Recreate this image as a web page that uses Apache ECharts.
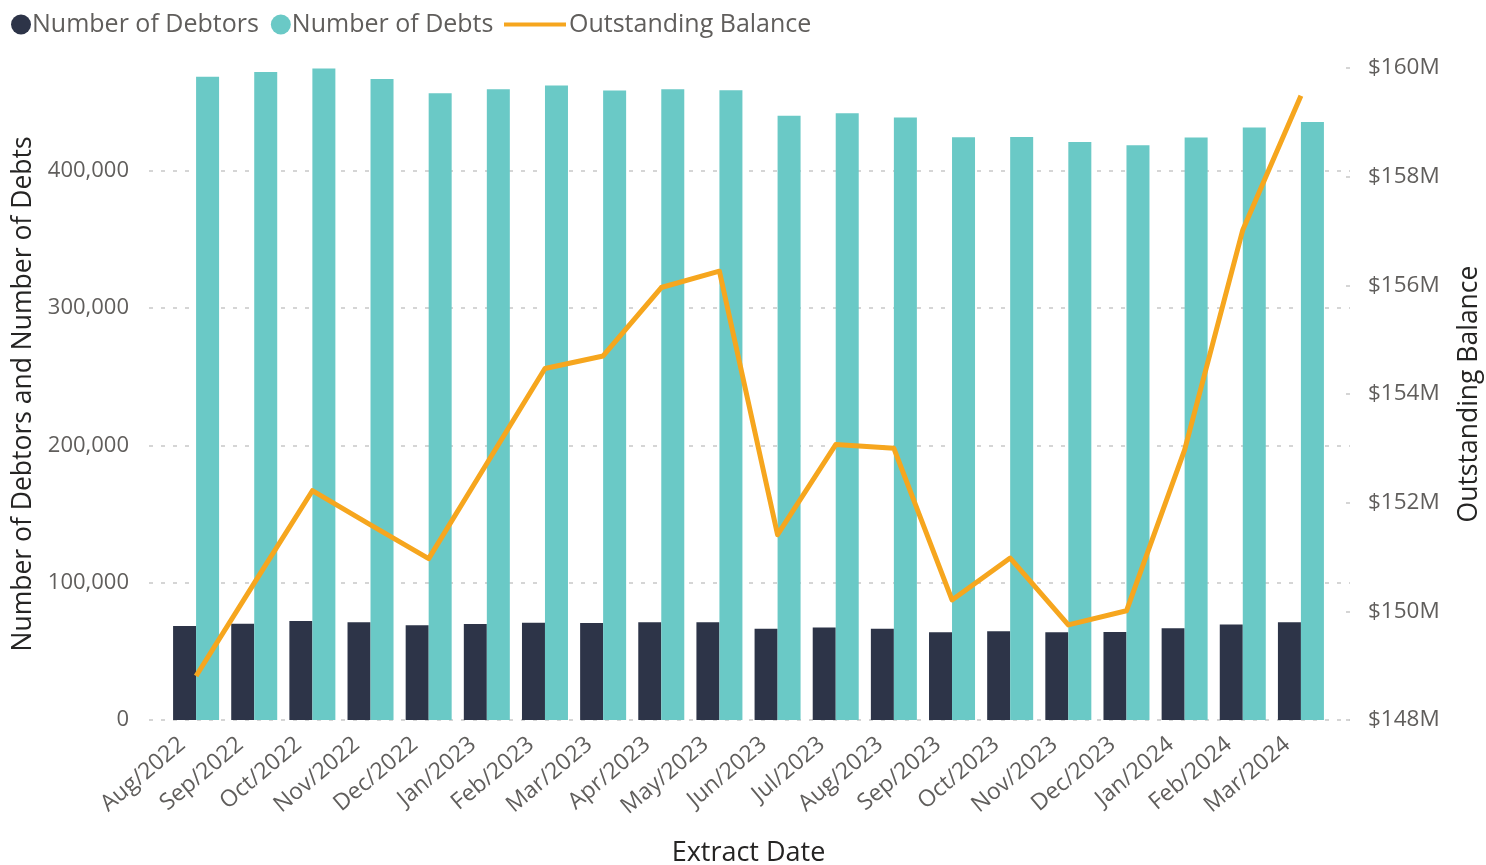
<!DOCTYPE html>
<html>
<head>
<meta charset="utf-8">
<title>Debtors, Debts and Outstanding Balance</title>
<script src="https://cdn.jsdelivr.net/npm/echarts@6/dist/echarts.min.js"></script>
<style>
  html, body { margin: 0; padding: 0; background: #ffffff; overflow: hidden; }
  #chart { width: 1486px; height: 865px; }
</style>
</head>
<body>
<div id="chart"></div>
<script>
// Monthly extract dates
const months = [
  'Aug/2022', 'Sep/2022', 'Oct/2022', 'Nov/2022', 'Dec/2022', 'Jan/2023',
  'Feb/2023', 'Mar/2023', 'Apr/2023', 'May/2023', 'Jun/2023', 'Jul/2023',
  'Aug/2023', 'Sep/2023', 'Oct/2023', 'Nov/2023', 'Dec/2023', 'Jan/2024',
  'Feb/2024', 'Mar/2024'
];

// Number of debtors per extract
const debtors = [
  68500, 70200, 72100, 71200, 69000, 69900,
  70900, 70700, 71200, 71200, 66500, 67300,
  66500, 63900, 64600, 63900, 64100, 66800,
  69500, 71200
];

// Number of debts per extract
const debts = [
  468700, 472100, 474600, 467000, 456600, 459500,
  462200, 458600, 459500, 458800, 440300, 442000,
  438900, 424500, 424800, 421100, 418700, 424300,
  431600, 435700
];

// Outstanding balance, in millions of dollars
const balance = [
  148.81, 150.52, 152.22, 151.59, 150.97, 152.72,
  154.47, 154.70, 155.96, 156.26, 151.41, 153.07,
  153.00, 150.21, 150.98, 149.75, 150.01, 152.97,
  157.02, 159.49
];

// Axis ranges
const countAxis = { min: 0, max: 475000, interval: 100000 };
const balanceAxis = { min: 148, max: 160, interval: 2 };

const FONT = '"Open Sans", "Noto Sans", sans-serif';
const LABEL_COLOR = '#605E5C';
const TITLE_COLOR = '#252423';
const COLOR_DEBTORS = '#2D3448';
const COLOR_DEBTS = '#6AC9C6';
const COLOR_BALANCE = '#F6A61E';

const chart = echarts.init(document.getElementById('chart'), null, { renderer: 'canvas' });

chart.setOption({
  backgroundColor: '#ffffff',
  animation: false,
  textStyle: { fontFamily: FONT },
  legend: [
    {
      left: 6, top: 7,
      itemWidth: 20, itemHeight: 20, itemGap: 12,
      icon: 'circle',
      textStyle: { fontFamily: FONT, fontSize: 25, color: LABEL_COLOR, padding: [0, 0, 0, -4] },
      data: ['Number of Debtors', 'Number of Debts']
    },
    {
      left: 499, top: 7,
      itemWidth: 62, itemHeight: 4, itemGap: 6,
      icon: 'rect',
      textStyle: { fontFamily: FONT, fontSize: 25, color: LABEL_COLOR, padding: [0, 0, 0, -2] },
      data: ['Outstanding Balance']
    }
  ],
  grid: [
    // frame carrying the gridlines and the value axes
    { left: 149, right: 136, top: 68, bottom: 145, outerBoundsMode: 'none', containLabel: false },
    // plotting area for the bars and the line
    { left: 167, right: 156, top: 68, bottom: 145, outerBoundsMode: 'none', containLabel: false }
  ],
  xAxis: [
    { gridIndex: 0, type: 'value', min: 0, max: 1, show: false },
    {
      gridIndex: 1,
      type: 'category',
      data: months,
      axisLine: { show: false },
      axisTick: { show: false },
      axisLabel: {
        rotate: 40, margin: 10, interval: 0,
        padding: [0, 18, 0, 0],
        fontFamily: FONT, fontSize: 23, color: LABEL_COLOR
      },
      name: 'Extract Date',
      nameLocation: 'middle',
      nameGap: 120,
      nameTextStyle: { fontFamily: FONT, fontSize: 27, color: TITLE_COLOR }
    }
  ],
  yAxis: [
    {
      gridIndex: 0,
      type: 'value',
      position: 'left',
      min: countAxis.min, max: countAxis.max, interval: countAxis.interval,
      axisLine: { show: false },
      axisTick: { show: false },
      axisLabel: {
        margin: 20, fontFamily: FONT, fontSize: 22, color: LABEL_COLOR,
        showMaxLabel: false,
        formatter: v => v.toLocaleString('en-US')
      },
      splitLine: {
        show: true, showMaxLine: false,
        lineStyle: { color: '#C8C8C8', width: 1.5, type: [4, 8] }
      },
      name: 'Number of Debtors and Number of Debts',
      nameLocation: 'middle',
      nameRotate: 90,
      nameGap: 111,
      nameTextStyle: { fontFamily: FONT, fontSize: 26.5, color: TITLE_COLOR }
    },
    {
      gridIndex: 0,
      type: 'value',
      position: 'right',
      min: balanceAxis.min, max: balanceAxis.max, interval: balanceAxis.interval,
      axisLine: { show: false },
      axisTick: { show: true, inside: true, length: 4, lineStyle: { color: '#C8C8C8', width: 1.5 } },
      axisLabel: {
        margin: 18, fontFamily: FONT, fontSize: 22.5, color: LABEL_COLOR,
        formatter: v => '$' + v + 'M'
      },
      splitLine: { show: false },
      name: 'Outstanding Balance',
      nameLocation: 'middle',
      nameRotate: 90,
      nameGap: 106,
      nameTextStyle: { fontFamily: FONT, fontSize: 26.5, color: TITLE_COLOR }
    },
    {
      gridIndex: 1, type: 'value', show: false,
      min: countAxis.min, max: countAxis.max, interval: countAxis.interval,
      splitLine: { show: false }
    },
    {
      gridIndex: 1, type: 'value', show: false,
      min: balanceAxis.min, max: balanceAxis.max, interval: balanceAxis.interval,
      splitLine: { show: false }
    }
  ],
  series: [
    {
      name: 'Number of Debtors',
      type: 'bar',
      xAxisIndex: 1, yAxisIndex: 2,
      data: debtors,
      barWidth: 23,
      barGap: '0%',
      itemStyle: { color: COLOR_DEBTORS }
    },
    {
      name: 'Number of Debts',
      type: 'bar',
      xAxisIndex: 1, yAxisIndex: 2,
      data: debts,
      barWidth: 23,
      barGap: '0%',
      itemStyle: { color: COLOR_DEBTS }
    },
    {
      name: 'Outstanding Balance',
      type: 'line',
      xAxisIndex: 1, yAxisIndex: 3,
      data: balance,
      showSymbol: false,
      symbol: 'none',
      z: 5,
      itemStyle: { color: COLOR_BALANCE },
      lineStyle: { color: COLOR_BALANCE, width: 5, join: 'round' }
    }
  ]
});
</script>
</body>
</html>
